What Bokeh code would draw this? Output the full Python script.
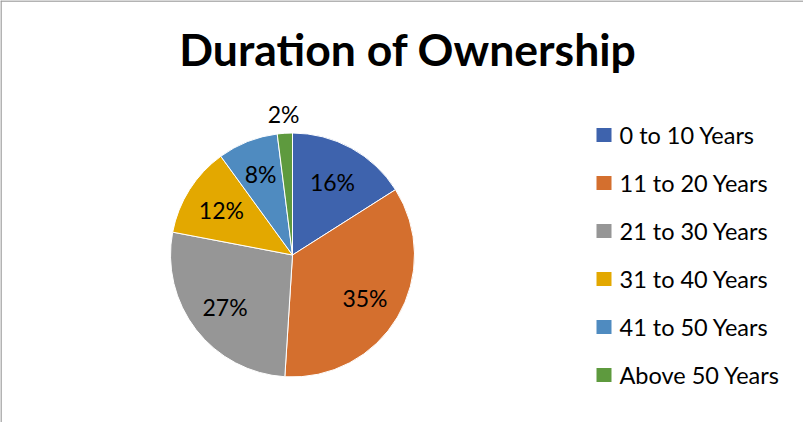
import numpy as np
from bokeh.plotting import figure
from bokeh.models import Range1d, Span, ColumnDataSource
from bokeh.core.properties import value
from bokeh.embed import file_html
from bokeh.resources import INLINE

# ---- data ----
categories = ["0 to 10 Years", "11 to 20 Years", "21 to 30 Years",
              "31 to 40 Years", "41 to 50 Years", "Above 50 Years"]
shares = [16, 35, 27, 12, 8, 2]
labels = ["16%", "35%", "27%", "12%", "8%", "2%"]
colors = ["#3E63AD", "#D46F2E", "#969696", "#E3A800", "#4F8BC0", "#5E9A3E"]
title_text = "Duration of Ownership"

# ---- layout (pixels; data units == pixels) ----
W, H = 803, 422
FONT = "Lato"
cx, cy, R = 292, 167.5, 122
label_r = [0.68, 0.69, 0.70, 0.69, 0.71, 1.16]

p = figure(width=W, height=H, output_backend="svg", toolbar_location=None,
           x_range=Range1d(0, W), y_range=Range1d(0, H), min_border=0)
p.axis.visible = False
p.grid.visible = False
p.outline_line_color = None
p.background_fill_color = "white"
p.border_fill_color = "white"

frac = np.array(shares, dtype=float) / sum(shares)
cum = np.concatenate([[0], np.cumsum(frac)])
start = np.pi / 2 - 2 * np.pi * cum[:-1]
end = np.pi / 2 - 2 * np.pi * cum[1:]
mid = (start + end) / 2

src = ColumnDataSource(dict(start=start, end=end, color=colors, cat=categories))
p.wedge(x=cx, y=cy, radius=R, start_angle="start", end_angle="end",
        direction="clock", fill_color="color", line_color="white",
        line_width=1, source=src)

lx = cx + np.array(label_r) * R * np.cos(mid)
ly = cy + np.array(label_r) * R * np.sin(mid)
p.text(x=lx, y=ly, text=labels, text_align="center", text_baseline="middle",
       text_font=value(FONT), text_font_size="23px", text_color="#000000")

# title
p.text(x=[407.5], y=[374], text=[title_text], text_align="center",
       text_baseline="middle", text_font=value(FONT),
       text_font_size="44.5px", text_font_style="bold", text_color="#000000")

# legend
ys = 287.5 - 48 * np.arange(len(categories))
p.rect(x=[603.5] * len(categories), y=ys, width=15, height=14, fill_color=colors,
       line_color=None)
p.text(x=[619] * len(categories), y=ys, text=categories, text_align="left",
       text_baseline="middle", text_font=value(FONT), text_font_size="23.5px",
       text_color="#000000")

# chart border (left and top)
p.add_layout(Span(location=0.5, dimension="height", line_color="#9a9a9a", line_width=1.5))
p.add_layout(Span(location=H - 0.5, dimension="width", line_color="#9a9a9a", line_width=1.5))

open("out.html", "w").write(file_html(p, INLINE))
